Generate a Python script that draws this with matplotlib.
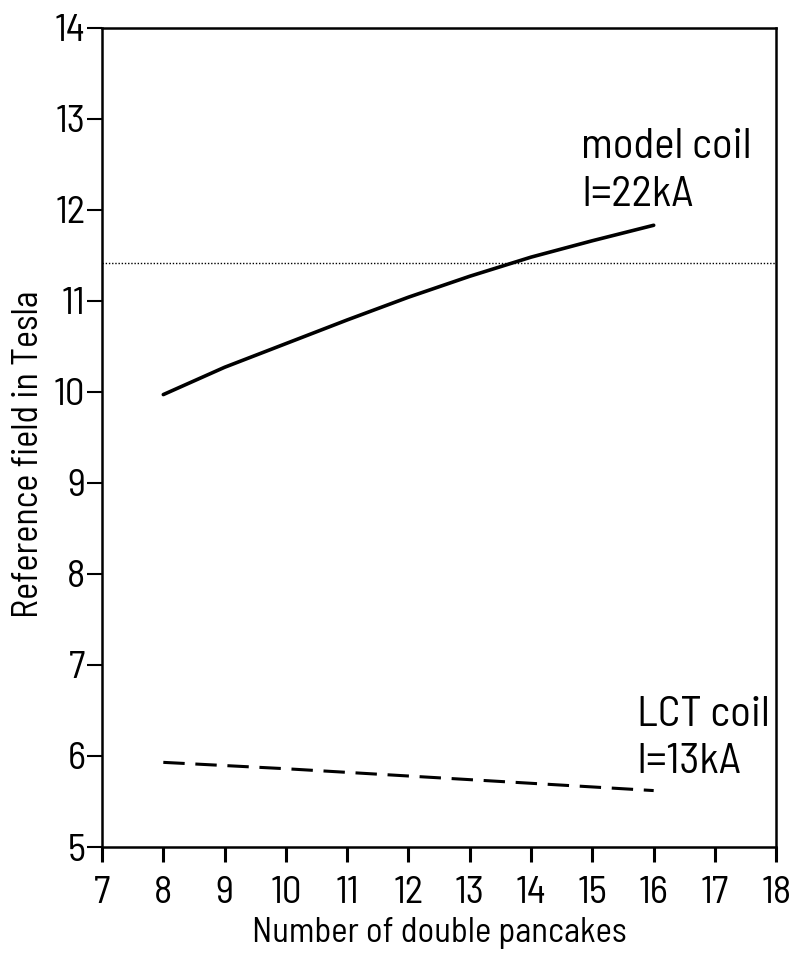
import matplotlib
matplotlib.use("Agg")
from matplotlib import pyplot as plt
from matplotlib import font_manager as fm

# condensed face to mimic the lettering of the scan
wanted = ['BarlowSemiCondensed-Regular.ttf', 'DejaVuSansCondensed.ttf']
found = {}
for path in fm.findSystemFonts():
    name = path.split('/')[-1]
    if name in wanted:
        fm.fontManager.addfont(path)
        found[name] = fm.FontProperties(fname=path).get_name()
fams = [found[w] for w in wanted if w in found] + ['DejaVu Sans']
plt.rcParams['font.family'] = fams
if 'BarlowSemiCondensed-Regular.ttf' not in found:
    plt.rcParams['font.stretch'] = 'condensed'

# model coil, I=22kA
model_x = [8, 9, 10, 11, 12, 13, 14, 15, 16]
model_y = [9.97, 10.27, 10.53, 10.79, 11.04, 11.27, 11.48, 11.66, 11.83]

# LCT coil, I=13kA
lct_x = [8, 10, 12, 14, 16]
lct_y = [5.93, 5.86, 5.78, 5.70, 5.62]

ref_level = 11.42

xticks = list(range(7, 19))
yticks = list(range(5, 15))

fig = plt.figure(figsize=(7.97, 9.56), dpi=100)
ax = fig.add_axes([0.128, 0.114, 0.846, 0.857])

ax.plot(model_x, model_y, color='black', lw=2.6, solid_capstyle='round')
ax.plot(lct_x, lct_y, color='black', lw=2.2, dashes=(7, 3.5))
ax.axhline(ref_level, color='black', lw=1.0, ls=(0, (1, 1.3)))

ax.text(14.82, 12.68, 'model coil', fontsize=31, va='center', ha='left')
ax.text(14.82, 12.16, 'I=22kA', fontsize=31, va='center', ha='left')
ax.text(15.72, 6.45, 'LCT coil', fontsize=31, va='center', ha='left')
ax.text(15.72, 5.93, 'I=13kA', fontsize=31, va='center', ha='left')

ax.set_xlim(7, 18)
ax.set_ylim(5, 14)
ax.set_xticks(xticks)
ax.set_yticks(yticks)
ax.tick_params(axis='x', direction='out', length=11, width=2.2, labelsize=28, pad=10)
ax.tick_params(axis='y', direction='out', length=11, width=1.5, labelsize=28, pad=1)
for s in ax.spines.values():
    s.set_linewidth(1.8)

ax.set_xlabel('Number of double pancakes', fontsize=25, labelpad=4)
ax.set_ylabel('Reference field in Tesla', fontsize=26)
ax.yaxis.set_label_coords(-0.085, 0.48)

fig.savefig('out.png', dpi=100)
